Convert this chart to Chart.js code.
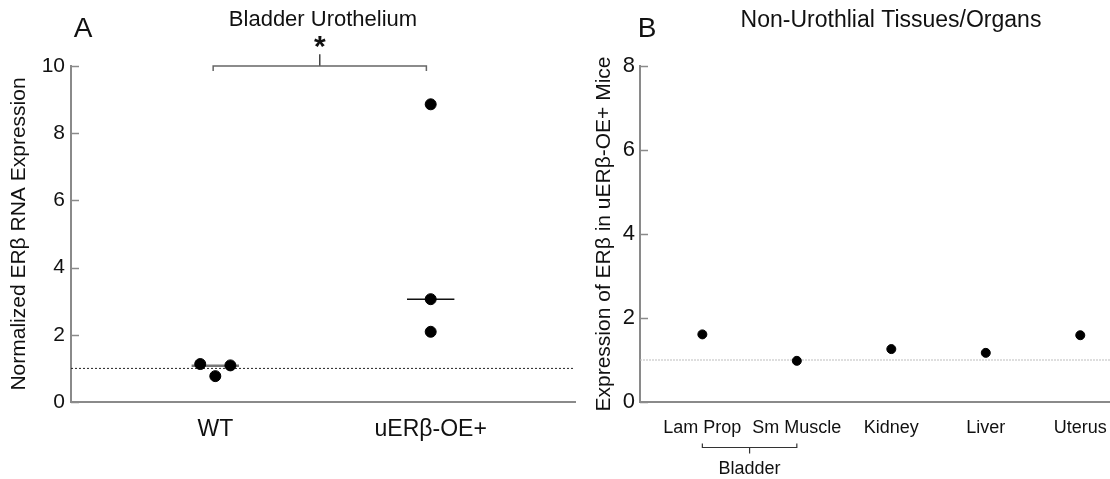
<!DOCTYPE html>
<html>
<head>
<meta charset="utf-8">
<script src="https://cdn.jsdelivr.net/npm/chart.js@4"></script>
<style>
    html, body { margin: 0; padding: 0; background: #fff; }
    #wrap { position: relative; width: 1110px; height: 479px; overflow: hidden; }
    canvas { position: absolute; top: 0; }
    #chartA { left: 0; }
    #chartB { left: 590px; }
</style>
</head>
<body>
<div id="wrap">
    <canvas id="chartA" width="590" height="479"></canvas>
    <canvas id="chartB" width="526" height="479"></canvas>
</div>
<script>
// Panel A - bladder urothelium
const categoriesA = ['WT', 'uERβ-OE+'];
const wtX = [0.93, 1.0, 1.07];
const wtY = [1.13, 0.77, 1.09];
const oeX = [2, 2, 2];
const oeY = [8.86, 3.06, 2.09];
const mediansA = [1.08, 3.06];
const ticksA = [0, 2, 4, 6, 8, 10];

// Panel B - other tissues
const categoriesB = ['Lam Prop', 'Sm Muscle', 'Kidney', 'Liver', 'Uterus'];
const valuesB = [1.61, 0.98, 1.26, 1.17, 1.59];
const ticksB = [0, 2, 4, 6, 8];

const baseline = 1;
const FONT = 'Liberation Sans, Arial, sans-serif';
const AXIS = '#8a8a8a';

Chart.defaults.font.family = FONT;
Chart.defaults.color = '#111';

function toPoints(xs, ys) {
    return xs.map((x, i) => ({ x: x, y: ys[i] }));
}

// short inner tick marks on the y axis
const innerTicks = {
    id: 'innerTicks',
    afterDraw(chart) {
        const y = chart.scales.y;
        const ctx = chart.ctx;
        ctx.save();
        ctx.strokeStyle = AXIS;
        ctx.lineWidth = 1.5;
        y.ticks.forEach((t) => {
            const py = Math.round(y.getPixelForValue(t.value)) + 0.5;
            ctx.beginPath();
            ctx.moveTo(y.right, py);
            ctx.lineTo(y.right + 8, py);
            ctx.stroke();
        });
        ctx.restore();
    },
};

// free text : titles, panel letters, asterisk
const texts = {
    id: 'texts',
    afterDraw(chart, args, opts) {
        const ctx = chart.ctx;
        ctx.save();
        ctx.textAlign = 'center';
        ctx.textBaseline = 'middle';
        ctx.fillStyle = '#111';
        for (const t of opts.items || []) {
            ctx.font = t.font;
            const x = t.xValue !== undefined ? chart.scales.x.getPixelForValue(t.xValue) : t.x;
            ctx.fillText(t.text, x, t.y);
        }
        ctx.restore();
    },
};

// bracket under the two bladder labels of panel B
const bladderBracket = {
    id: 'bladderBracket',
    afterDraw(chart) {
        const x = chart.scales.x;
        const ctx = chart.ctx;
        const x1 = x.getPixelForValue(1);
        const x2 = x.getPixelForValue(2);
        const xm = (x1 + x2) / 2;
        const y = 447.5;
        ctx.save();
        ctx.strokeStyle = '#333';
        ctx.lineWidth = 1.2;
        ctx.beginPath();
        ctx.moveTo(x1, y - 4);
        ctx.lineTo(x1, y);
        ctx.lineTo(x2, y);
        ctx.lineTo(x2, y - 4);
        ctx.moveTo(xm, y);
        ctx.lineTo(xm, y + 6);
        ctx.stroke();
        ctx.font = '18px ' + FONT;
        ctx.fillStyle = '#111';
        ctx.textAlign = 'center';
        ctx.textBaseline = 'middle';
        ctx.fillText('Bladder', xm, 469);
        ctx.restore();
    },
};

function fixX(scale) {
    scale.height = 77;
    scale.paddingLeft = 0;
    scale.paddingRight = 0;
}

new Chart(document.querySelector('#chartA'), {
    type: 'scatter',
    data: {
        datasets: [
            {
                label: 'WT',
                data: toPoints(wtX, wtY),
                backgroundColor: '#000',
                borderColor: '#000',
                pointRadius: 5.5,
            },
            {
                label: 'uERβ-OE+',
                data: toPoints(oeX, oeY),
                backgroundColor: '#000',
                borderColor: '#000',
                pointRadius: 5.5,
            },
            {
                type: 'line',
                data: [{ x: 0.89, y: mediansA[0] }, { x: 1.11, y: mediansA[0] }],
                borderColor: '#777',
                borderWidth: 2.5,
                pointRadius: 0,
            },
            {
                type: 'line',
                data: [{ x: 1.89, y: mediansA[1] }, { x: 2.11, y: mediansA[1] }],
                borderColor: '#111',
                borderWidth: 1.5,
                pointRadius: 0,
            },
            {
                type: 'line',
                data: [{ x: 0.33, y: baseline }, { x: 2.67, y: baseline }],
                borderColor: '#222',
                borderWidth: 1,
                borderDash: [2, 2],
                pointRadius: 0,
            },
            {
                type: 'line',
                data: [
                    { x: 0.99, y: 9.85 },
                    { x: 0.99, y: 10 },
                    { x: 1.98, y: 10 },
                    { x: 1.98, y: 9.85 },
                ],
                borderColor: '#666',
                borderWidth: 1.5,
                pointRadius: 0,
                clip: false,
            },
            {
                type: 'line',
                data: [{ x: 1.485, y: 10 }, { x: 1.485, y: 10.35 }],
                borderColor: '#444',
                borderWidth: 1.5,
                pointRadius: 0,
                clip: false,
            },
        ],
    },
    options: {
        responsive: false,
        animation: false,
        events: [],
        layout: { padding: { top: 66, right: 15, left: 0, bottom: 0 } },
        plugins: {
            legend: { display: false },
            tooltip: { enabled: false },
            texts: {
                items: [
                    { text: 'A', x: 83, y: 29, font: '28px ' + FONT },
                    { text: 'Bladder Urothelium', x: 323, y: 20, font: '22px ' + FONT },
                    { text: '*', xValue: 1.485, y: 48, font: 'bold 30px ' + FONT },
                ],
            },
        },
        scales: {
            x: {
                type: 'linear',
                min: 0.33,
                max: 2.67,
                afterBuildTicks: (scale) => {
                    scale.ticks = categoriesA.map((c, i) => ({ value: i + 1 }));
                },
                afterFit: fixX,
                ticks: {
                    callback: (v) => categoriesA[v - 1],
                    font: { size: 23 },
                    padding: 14,
                    maxRotation: 0,
                },
                grid: { display: false, drawTicks: false },
                border: { color: AXIS, width: 2 },
            },
            y: {
                min: 0,
                max: 10,
                afterBuildTicks: (scale) => {
                    scale.ticks = ticksA.map((v) => ({ value: v }));
                },
                afterFit: (scale) => {
                    scale.width = 71;
                },
                ticks: { font: { size: 21 }, padding: 6 },
                grid: { display: false, drawTicks: false },
                border: { color: AXIS, width: 2 },
                title: {
                    display: true,
                    text: 'Normalized ERβ RNA Expression',
                    font: { size: 21 },
                    padding: { top: 7, bottom: 0 },
                },
            },
        },
    },
    plugins: [innerTicks, texts],
});

new Chart(document.querySelector('#chartB'), {
    type: 'scatter',
    data: {
        datasets: [
            {
                label: 'ERβ',
                data: valuesB.map((v, i) => ({ x: i + 1, y: v })),
                backgroundColor: '#000',
                borderColor: '#000',
                pointRadius: 4.5,
            },
            {
                type: 'line',
                data: [{ x: 0.34, y: baseline }, { x: 5.32, y: baseline }],
                borderColor: '#bdbdbd',
                borderWidth: 1.2,
                borderDash: [2, 1],
                pointRadius: 0,
            },
        ],
    },
    options: {
        responsive: false,
        animation: false,
        events: [],
        layout: { padding: { top: 66, right: 0, left: 0, bottom: 0 } },
        plugins: {
            legend: { display: false },
            tooltip: { enabled: false },
            texts: {
                items: [
                    { text: 'B', x: 57, y: 29, font: '28px ' + FONT },
                    { text: 'Non-Urothlial Tissues/Organs', x: 301, y: 21, font: '23px ' + FONT },
                ],
            },
        },
        scales: {
            x: {
                type: 'linear',
                min: 0.34,
                max: 5.32,
                afterBuildTicks: (scale) => {
                    scale.ticks = categoriesB.map((c, i) => ({ value: i + 1 }));
                },
                afterFit: fixX,
                ticks: {
                    callback: (v) => categoriesB[v - 1],
                    font: { size: 18 },
                    padding: 15,
                    maxRotation: 0,
                    autoSkip: false,
                },
                grid: { display: false, drawTicks: false },
                border: { color: AXIS, width: 2 },
            },
            y: {
                min: 0,
                max: 8,
                afterBuildTicks: (scale) => {
                    scale.ticks = ticksB.map((v) => ({ value: v }));
                },
                afterFit: (scale) => {
                    scale.width = 50;
                },
                ticks: { font: { size: 22 }, padding: 5 },
                grid: { display: false, drawTicks: false },
                border: { color: AXIS, width: 2 },
                title: {
                    display: true,
                    text: 'Expression of ERβ in uERβ-OE+ Mice',
                    font: { size: 21 },
                    padding: { top: 2, bottom: 0 },
                },
            },
        },
    },
    plugins: [innerTicks, texts, bladderBracket],
});
</script>
</body>
</html>
